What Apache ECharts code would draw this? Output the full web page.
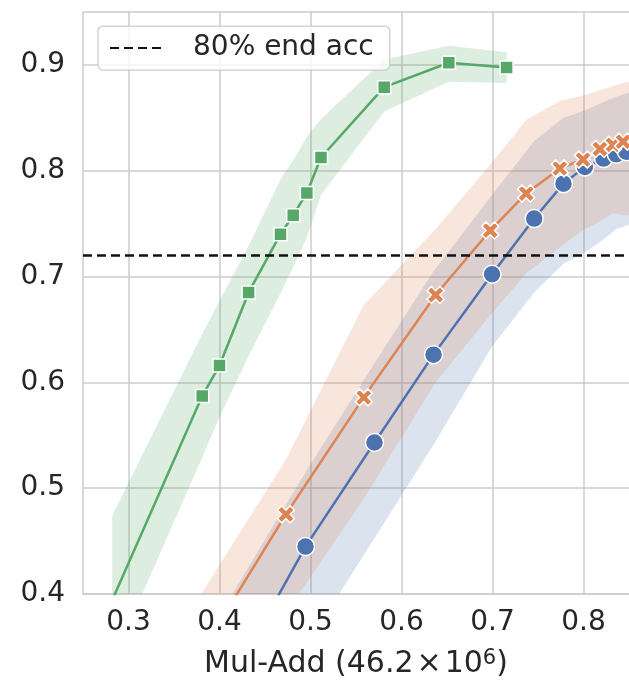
<!DOCTYPE html>
<html>
<head>
<meta charset="utf-8">
<script src="https://cdn.jsdelivr.net/npm/echarts@6/dist/echarts.min.js"></script>
<style>
html,body{margin:0;padding:0;background:#fff;}
#chart{width:629px;height:680px;}
</style>
</head>
<body>
<div id="chart"></div>
<script>
// ---- data ----
var xTicks = [0.3, 0.4, 0.5, 0.6, 0.7, 0.8];
var yTicks = [0.4, 0.5, 0.6, 0.7, 0.8, 0.9];
var xMin = 0.25, xMax = 0.85, yMin = 0.4, yMax = 0.95;
var thresholdY = 0.72;
var thresholdName = '80% end acc';
var xAxisName = 'Mul-Add (46.2\u200a×\u200a10{sup|6})';

// blue (circles)
var blueX  = [0.414, 0.4945, 0.5703, 0.6352, 0.6995, 0.7458, 0.778, 0.8015, 0.822, 0.836, 0.847, 0.857];
var blueY  = [0.320, 0.4448, 0.5432, 0.6262, 0.7022, 0.7548, 0.7878, 0.8035, 0.8115, 0.8155, 0.818, 0.8195];
var blueHi = [0.400, 0.515, 0.618, 0.705, 0.777, 0.828, 0.850, 0.857, 0.865, 0.870, 0.873, 0.875];
var blueLo = [0.240, 0.350, 0.4527, 0.541, 0.634, 0.685, 0.712, 0.723, 0.735, 0.745, 0.748, 0.750];

// orange (X markers)
var orangeX  = [0.380, 0.473, 0.5585, 0.6375, 0.6975, 0.737, 0.774, 0.7995, 0.818, 0.8325, 0.8435, 0.853];
var orangeY  = [0.345, 0.4753, 0.5858, 0.6826, 0.7435, 0.7785, 0.8022, 0.8105, 0.8205, 0.8245, 0.8275, 0.829];
var orangeHi = [0.400, 0.527, 0.673, 0.745, 0.806, 0.848, 0.866, 0.871, 0.876, 0.880, 0.883, 0.885];
var orangeLo = [0.270, 0.382, 0.490, 0.600, 0.6635, 0.703, 0.728, 0.744, 0.752, 0.760, 0.758, 0.758];

// green (squares)
var greenX  = [0.282, 0.381, 0.400, 0.432, 0.467, 0.481, 0.496, 0.5115, 0.581, 0.652, 0.7155];
var greenY  = [0.394, 0.587, 0.616, 0.685, 0.740, 0.758, 0.779, 0.8125, 0.879, 0.902, 0.8975];
var greenHi = [0.474, 0.646, 0.677, 0.729, 0.792, 0.810, 0.832, 0.849, 0.905, 0.918, 0.912];
var greenLo = [0.335, 0.529, 0.567, 0.625, 0.684, 0.709, 0.737, 0.777, 0.856, 0.884, 0.883];

var BLUE = '#4C72B0', ORANGE = '#DD8452', GREEN = '#55A868';
var TEXT = '#262626', GRIDC = '#cccccc';
var FONT = 'DejaVu Sans';
var X_PATH = 'path://M6,0L8,2L6,4L8,6L6,8L4,6L2,8L0,6L2,4L0,2L2,0L4,2Z';

function zipPts(xs, ys) { return xs.map(function (x, i) { return [x, ys[i]]; }); }

function band(name, xs, lo, hi, fill) {
  return {
    type: 'custom', name: name, z: 1, silent: true, clip: true,
    data: xs.map(function (x, i) { return [x, lo[i], hi[i]]; }),
    encode: { x: 0, y: [1, 2] },
    renderItem: function (params, api) {
      if (params.dataIndex !== 0) return null;
      var pts = [], i;
      for (i = 0; i < xs.length; i++) pts.push(api.coord([xs[i], hi[i]]));
      for (i = xs.length - 1; i >= 0; i--) pts.push(api.coord([xs[i], lo[i]]));
      var cs = params.coordSys;
      return {
        type: 'polygon',
        shape: { points: pts },
        style: { fill: fill, stroke: null },
        clipPath: { type: 'rect', shape: { x: cs.x, y: cs.y, width: cs.width, height: cs.height } }
      };
    }
  };
}

function line(name, xs, ys, color, symbol, size, z) {
  return {
    type: 'line', name: name, z: z, clip: true,
    data: zipPts(xs, ys),
    symbol: symbol, symbolSize: size, showSymbol: true, showAllSymbol: true,
    lineStyle: { color: color, width: 2.5 },
    itemStyle: { color: color, borderColor: '#ffffff', borderWidth: 1.5 },
    emphasis: { disabled: true }
  };
}

var chart = echarts.init(document.getElementById('chart'), null, { renderer: 'canvas' });
chart.setOption({
  animation: false,
  backgroundColor: '#ffffff',
  textStyle: { fontFamily: FONT, color: TEXT },
  grid: { left: 83, right: 0, top: 12, bottom: 86, containLabel: false, outerBoundsMode: 'none' },
  legend: {
    data: [thresholdName],
    left: 98, top: 26, z: 20,
    padding: [8, 16, 8, 11],
    itemWidth: 56, itemHeight: 14,
    itemStyle: { opacity: 0 },
    backgroundColor: 'rgba(255,255,255,0.8)',
    borderColor: GRIDC, borderWidth: 1.25, borderRadius: 5,
    textStyle: { fontSize: 28, color: TEXT, fontFamily: FONT, padding: [0, 0, 0, 22] },
    selectedMode: false
  },
  xAxis: {
    type: 'value', min: xMin, max: xMax,
    name: xAxisName, nameLocation: 'middle', nameGap: 54,
    nameTextStyle: { fontSize: 30, color: TEXT, fontFamily: FONT, lineHeight: 32,
      rich: { sup: { fontSize: 21, fontFamily: FONT, color: TEXT, verticalAlign: 'top', lineHeight: 22 } } },
    axisLine: { show: true, lineStyle: { color: GRIDC, width: 1.5 } },
    axisTick: { show: false, customValues: xTicks },
    axisLabel: { customValues: xTicks, fontSize: 28, color: TEXT, margin: 15,
      formatter: function (v) { return v.toFixed(1); } },
    splitLine: { show: true, lineStyle: { color: GRIDC, width: 1.5 } }
  },
  yAxis: {
    type: 'value', min: yMin, max: yMax, interval: 0.1,
    axisLine: { show: true, lineStyle: { color: GRIDC, width: 1.5 } },
    axisTick: { show: false },
    axisLabel: { fontSize: 28, color: TEXT, margin: 18, showMaxLabel: false,
      formatter: function (v) { return (Math.abs(v - 0.95) < 1e-6) ? '' : v.toFixed(1); } },
    splitLine: { show: true, lineStyle: { color: GRIDC, width: 1.5 } }
  },
  series: [
    band('blueBand', blueX, blueLo, blueHi, 'rgba(76,114,176,0.2)'),
    band('orangeBand', orangeX, orangeLo, orangeHi, 'rgba(221,132,82,0.2)'),
    band('greenBand', greenX, greenLo, greenHi, 'rgba(85,168,104,0.2)'),
    line('blue', blueX, blueY, BLUE, 'circle', 18, 2),
    line('orange', orangeX, orangeY, ORANGE, X_PATH, 17, 3),
    line('green', greenX, greenY, GREEN, 'rect', 13, 4),
    {
      type: 'line', name: thresholdName, z: 5, symbol: 'none', clip: true,
      data: [[xMin, thresholdY], [xMax, thresholdY]],
      lineStyle: { color: '#111111', width: 2.5, type: [9, 5] },
      itemStyle: { color: '#111111' },
      emphasis: { disabled: true }
    }
  ]
});
</script>
</body>
</html>
